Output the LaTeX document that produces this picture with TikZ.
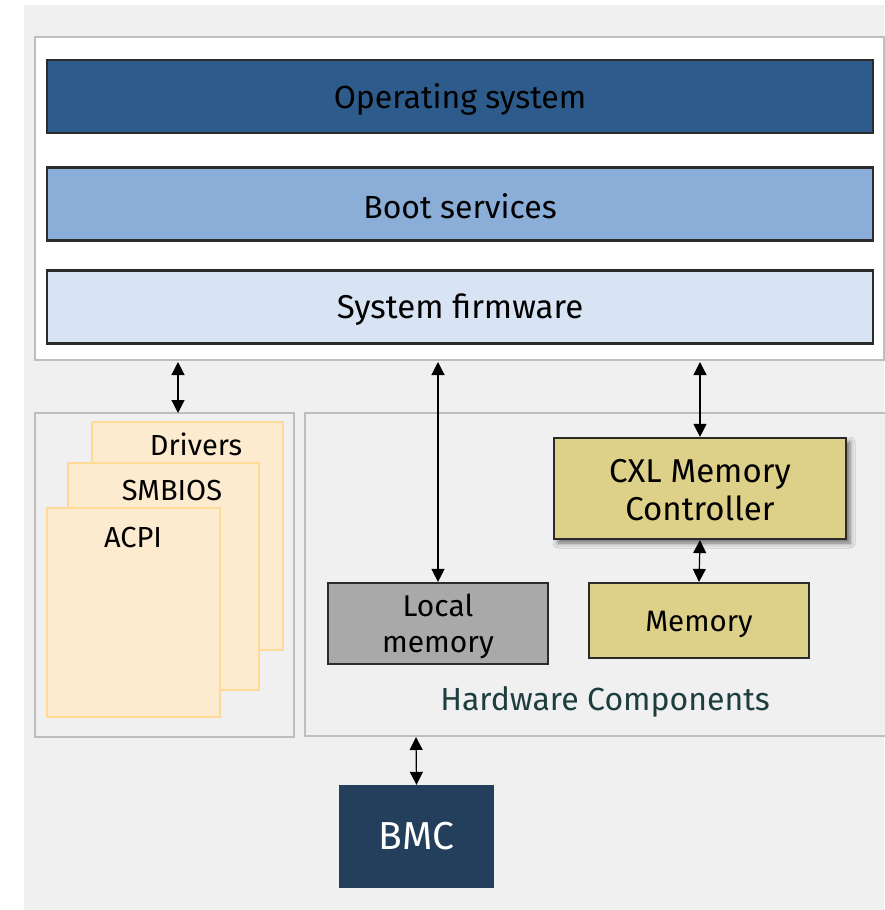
\documentclass[tikz,border=0pt]{standalone}
\usepackage{fontspec}
\setmainfont{Fira Sans}
\usetikzlibrary{arrows.meta,shadows.blur}
\definecolor{bg}{HTML}{F0F0F0}
\definecolor{frame}{HTML}{BEBEBE}
\definecolor{osblue}{HTML}{2D5B8B}
\definecolor{bootblue}{HTML}{8BAED9}
\definecolor{fwblue}{HTML}{D8E4F3}
\definecolor{page}{HTML}{FDEBD0}
\definecolor{pageedge}{HTML}{FFDA96}
\definecolor{cxl}{HTML}{DDD088}
\definecolor{localgray}{HTML}{A9A9A9}
\definecolor{bmc}{HTML}{233F5C}
\definecolor{hwtext}{HTML}{1E3D3F}
\definecolor{edge}{HTML}{2B2B2B}
\tikzset{
  panel/.style={draw=frame,line width=2pt},
  layer/.style={draw=edge,line width=2.2pt,minimum width=826pt,minimum height=73pt,inner sep=0pt},
  layerlabel/.style={font=\fontsize{32}{34}\selectfont},
  sheet/.style={draw=pageedge,fill=page,line width=2.5pt},
  sheetlabel/.style={font=\fontsize{29}{32}\selectfont},
  hwbox/.style={draw=edge,line width=2.2pt,inner sep=0pt,align=center},
  link/.style={line width=1.2pt,{Triangle[length=13pt,width=13pt]}-{Triangle[length=13pt,width=13pt]}}
}
\begin{document}
\begin{tikzpicture}[x=1pt,y=-1pt]
\useasboundingbox (0,0) rectangle (884,910);
\fill[white] (0,0) rectangle (884,910);
\fill[bg] (24,5) rectangle (884,910);

% firmware stack
\draw[panel,fill=white] (35,37) rectangle (884,360);
\node[layer,fill=osblue] (os) at (460,96.5) {};
\node[layer,fill=bootblue] (boot) at (460,204) {};
\node[layer,fill=fwblue] (fw) at (460,307) {};
\node[layerlabel] (oslabel) at (460,99) {Operating system};
\node[layerlabel] (bootlabel) at (460,206) {Boot services};
\node[layerlabel,font=\fontsize{33}{34}\selectfont] (fwlabel) at (460,310) {System firmware};

% tables handed over by the firmware
\draw[panel,fill=bg] (35,413) rectangle (294,737);
\coordinate (tables) at (178,413);
\draw[sheet] (92,422) rectangle (283,650);
\draw[sheet] (68,463) rectangle (259,690);
\draw[sheet] (47,508) rectangle (220,717);
\node[sheetlabel] (drv) at (196,444) {Drivers};
\node[sheetlabel] (smb) at (172,491) {SMBIOS};
\node[sheetlabel] (acpi) at (133,538) {ACPI};

% hardware
\draw[panel,fill=bg] (305,413) rectangle (886,736);
\coordinate (hwbottom) at (416,737);
\node[hwbox,fill=localgray,minimum width=220pt,minimum height=81pt] (local) at (438,623.5) {};
\node[align=center,font=\fontsize{30}{36}\selectfont] (locallabel) at (438,626) {Local\\memory};
\node[hwbox,fill=cxl,minimum width=292pt,minimum height=101pt,blur shadow={shadow xshift=4pt,shadow yshift=-4pt,shadow blur radius=5pt,shadow opacity=55}] (ctrl) at (700,488.5) {};
\node[align=center,font=\fontsize{33}{38}\selectfont] (ctrllabel) at (700,490) {CXL Memory\\Controller};
\node[hwbox,fill=cxl,minimum width=220pt,minimum height=75pt] (mem) at (699,620.5) {};
\node[font=\fontsize{29.5}{32}\selectfont] (memlabel) at (699,624) {Memory};
\node[text=hwtext,font=\fontsize{32}{34}\selectfont] (hwlabel) at (605,702) {Hardware Components};

\node[fill=bmc,text=white,minimum width=155pt,minimum height=103pt,inner sep=0pt,font=\fontsize{39}{40}\selectfont] (bmcbox) at (416.5,836.5) {BMC};

% connectors
\draw[link] (tables |- 0,362) -- (tables);
\draw[link] (438,362) -- (local.north);
\draw[link] (700,362) -- (ctrl.north);
\draw[link] (ctrl.south) -- (mem.north);
\draw[link] (hwbottom) -- (bmcbox.north);
\end{tikzpicture}
\end{document}
